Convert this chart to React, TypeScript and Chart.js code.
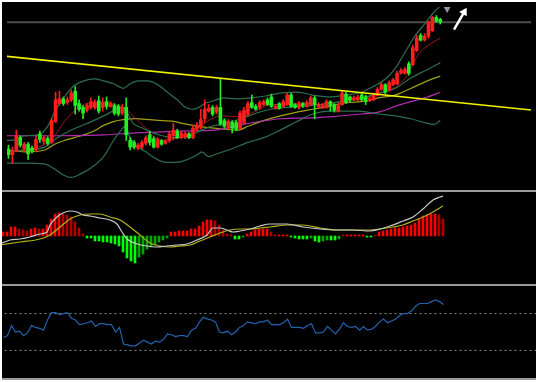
import { useEffect, useRef } from "react";
import { Chart, registerables } from "chart.js";
Chart.register(...registerables);

// ---------- DATA (price units, arbitrary) ----------
const candleOpen = [38,32,37,50,38,43,39,37,54,46, 49,45,67,86,91,87,90,99,86,82, 79,82,82,89,82,88,83,84,83,76, 82,47,45,39,40,44,53,49,40,47, 44,47,52,57,50,51,54,50,59,61, 70,78,82,77,82,68,60,66,66,60, 66,75,87,83,82,85,90,93,81,86, 83,85,95,85,82,86,83,85,92,83, 82,82,88,85,78,85,96,93,90,90, 95,93,89,90,95,101,106,100,106,107, 118,118,128,127,142,158,153,157,163,177, 175];
const candleClose = [32,36,52,42,43,33,36,48,48,50, 44,68,90,91,86,90,97,84,80,76, 84,88,87,78,87,83,86,76,75,82, 53,40,40,42,45,50,45,40,48,43, 46,54,58,50,55,54,50,60,63,69, 80,81,75,82,65,62,67,60,59,76, 79,86,82,80,87,88,85,83,83,81, 88,95,83,82,86,84,87,92,85,85, 84,88,84,79,84,97,88,90,92,93, 90,88,91,95,101,106,98,108,111,118, 121,122,118,145,155,153,157,172,177,173, 172];
const candleHigh = [42,40,58,52,45,45,41,52,57,52, 51,70,98,99,93,93,100,104,90,84, 86,92,90,94,92,93,88,86,85,85, 92,50,47,44,47,52,57,51,50,48, 48,56,65,59,57,56,55,63,66,80, 90,85,84,84,112,70,69,68,68,78, 82,88,95,85,89,90,92,96,85,87, 90,97,97,86,88,87,89,94,94,87, 86,90,89,86,86,99,98,94,94,95, 97,95,93,97,103,108,107,110,113,120, 123,124,130,148,158,160,160,173,178,179, 176];
const candleLow = [28,23,35,40,35,27,34,35,45,43, 42,44,66,84,84,85,88,75,78,70, 77,80,80,76,78,80,82,74,73,74, 47,37,38,37,38,42,42,39,39,42, 43,45,48,49,49,49,49,49,57,59, 66,77,73,75,63,60,59,55,57,59, 64,73,81,79,80,84,84,82,80,80, 82,84,82,81,80,82,82,84,70,81, 81,81,78,77,77,84,86,88,89,89, 89,85,88,89,94,100,96,99,105,106, 117,117,116,126,141,152,152,155,162,172, 170];

// indicator lines: [barIndex, value]
const bollUpper: [number, number][] = [[-0.75,47],[1.75,48],[4.25,52],[7.5,53],[10,62],[11.75,77],[14.25,93],[16.75,105],[19.25,110],[21.75,112],[24.25,110],[26.75,107],[29.25,102],[31,107],[33,110],[35.5,110],[38,106],[40.5,98],[43,90],[44.75,83],[46.75,80],[48.5,82],[50,86],[52.25,89],[54.75,92],[58,91],[61.75,92],[65.5,94],[69.25,97],[73.5,98],[77.5,95],[81.75,93],[86,95],[90,98],[92.5,103],[96,112],[98.5,123],[101,140],[103.5,157],[106,170],[108.5,183],[110,189]];
const bollMid: [number, number][] = [[-0.75,35],[4.25,37],[9.25,40],[11.75,48],[16,58],[20,65],[24.25,73],[27.5,80],[29.25,82],[31.75,65],[34.25,60],[36.75,55],[39.25,52],[41.75,50],[44.25,50],[46.75,53],[49.25,58],[51.75,62],[54.25,64],[59.25,70],[62.5,75],[66.75,80],[71,82],[75,83],[79.25,85],[83,87],[90,92],[94.25,97],[98.5,102],[102.5,113],[106.75,122],[110,129]];
const bollLower: [number, number][] = [[-0.75,23],[4.25,23],[9.25,22],[11.75,17],[14.25,10],[16,8],[18.5,12],[21,18],[24.25,30],[26.75,47],[28.5,57],[29.75,62],[31,50],[32.5,42],[35,35],[37.5,28],[40,24],[42.5,24],[44.25,25],[46.75,29],[48.5,33],[49.25,35],[51,30],[52.5,32],[56.75,38],[61,45],[65,50],[69.25,58],[73.5,67],[77.5,75],[81.75,78],[89.25,78],[94.25,75],[98.5,73],[102.5,70],[106.75,65],[108.5,64],[110,68]];
const maShort: [number, number][] = [[-0.75,35],[4.25,37],[9.25,43],[11.75,52],[14.25,67],[16.75,78],[19.25,85],[21.75,87],[24.25,87],[26.75,85],[29.25,82],[31.75,73],[34.25,63],[36.75,52],[39.25,47],[41.75,48],[44.25,52],[46.75,57],[49.25,63],[51.75,70],[54.25,73],[59.25,72],[62.5,77],[66.75,85],[71,85],[75,87],[79.25,85],[83,87],[90,92],[94.25,95],[96.75,100],[99.25,105],[101.75,117],[104.25,137],[106.75,147],[110,155]];
const maMid: [number, number][] = [[-0.75,37],[4.25,35],[9.25,37],[11.75,43],[14.25,47],[16.75,50],[19.25,53],[21.75,57],[24.25,63],[26.75,67],[29.25,69],[32.5,70],[36,69],[39.25,68],[42.5,67],[44.25,65],[48.5,62],[52.5,60],[58.5,58],[61,62],[65,68],[69.25,73],[73.5,77],[77.5,80],[81.75,83],[86,87],[90,88],[94.25,92],[98.5,95],[102.5,102],[106.75,110],[110,115]];
const maLong: [number, number][] = [[-0.75,52],[7.5,52],[24.25,53],[32.5,55],[44.25,57],[52.5,58],[61,65],[69.25,70],[77.5,71],[81.75,72],[90,75],[94.25,77],[98.5,83],[102.5,88],[106.75,93],[110,98]];
const trendLine: [number, number][] = [[-0.75,136],[133.75,79]];
const levelLine: [number, number][] = [[-1,172],[134,172]];
const arrowShaft: [number, number][] = [[113.5,164],[116.1,182.7]];
const arrowHead: [number, number][] = [[116.1,182.7]];
const topMarker: [number, number][] = [[111.75,187]];

const macdHist = [4,4,9,9,7,6,5,7,8,7, 7,11,17,22,23,22,21,19,14,8, 2,-2,-2,-5,-5,-6,-6,-7,-8,-10, -16,-22,-25,-27,-21,-18,-13,-11,-9,-6, -4,-2,4,4,5,5,5,7,7,10, 14,16,16,15,11,6,2,1,-3,-3, -1,2,4,6,7,7,7,4,1,1, 1,1,-1,-2,-3,-3,-3,-2,-5,-6, -5,-4,-4,-4,-3,1,1,1,1,1, 1,-1,-1,0.5,4,5,6,7,8,8, 9,10,11,13,17,20,21,22,22,21, 17];
const macdDif: [number, number][] = [[-0.75,-8],[1.75,-4],[4.25,-3],[6.75,-1],[9.25,2],[11,4],[11.75,11],[13.5,19],[15,23],[16.75,25],[18.5,24],[20,21],[21.75,20],[24.25,18],[26.75,16],[28.5,12],[29.75,4],[31,-3],[33.5,-8],[36,-10],[38.5,-11],[41,-10],[43.5,-9],[46,-8],[48.5,-4],[51,1],[52.5,8],[54.25,8],[56,6],[57.5,4],[59.25,5],[61.75,7],[64.25,10],[66.75,12],[71,12],[75,9],[79.25,7],[83.5,6],[87.5,6],[91.75,5],[94.25,7],[96.75,10],[100,15],[102.5,19],[105,27],[107.5,36],[109.25,39],[110,40]];
const macdDea: [number, number][] = [[-0.75,-9],[4.25,-6],[9.25,-3],[11.75,1],[14.25,9],[16.75,17],[19.25,21],[21.75,22],[24.25,22],[26.75,19],[29.25,16],[31.75,9],[34.25,1],[36.75,-7],[39.25,-10],[41.75,-11],[44.25,-10],[46.75,-9],[49.25,-5],[51.75,-1],[54.25,3],[56.75,6],[59.25,7],[61.75,7],[64.25,8],[66.75,9],[71,11],[75,11],[79.25,8],[83.5,6],[87.5,6],[91.75,6],[94.25,7],[97.5,9],[100,11],[102.5,15],[105,19],[107.5,24],[110,30]];

const rsiValues = [44,46,57,50,51,46,49,57,55,54, 52,63,71,71,69,70,71,65,63,58, 59,60,62,56,59,59,58,58,50,55, 37,36,35,35,38,41,39,37,40,39, 42,48,47,45,46,46,45,52,54,61, 66,64,63,61,50,49,51,47,50,55, 57,61,60,59,61,61,63,58,58,58, 60,64,55,55,55,54,57,59,49,49, 50,56,52,48,53,60,56,55,56,52, 56,52,53,56,61,64,60,62,64,68, 70,70,73,78,81,81,81,83,85,83, 80];
const rsiLevels = [70, 30];

// ---------- helpers ----------
const pts = (arr: [number, number][]) => arr.map(([x, y]) => ({ x, y }));
const RED = "#ff1e1e";
const GREEN = "#22ee22";

const baseOptions = (xmin: number, xmax: number, ymin: number, ymax: number): any => ({
  responsive: false,
  animation: false,
  devicePixelRatio: 1,
  layout: { padding: 0 },
  plugins: { legend: { display: false }, tooltip: { enabled: false } },
  elements: { point: { radius: 0 } },
  scales: {
    x: { type: "linear", min: xmin, max: xmax, display: false, offset: false },
    y: { type: "linear", min: ymin, max: ymax, display: false },
  },
});

const lineDs = (data: [number, number][], color: string, width = 1, order = 3, extra: any = {}) => ({
  type: "line",
  data: pts(data),
  borderColor: color,
  borderWidth: width,
  pointRadius: 0,
  cubicInterpolationMode: "monotone",
  order,
  ...extra,
});

function mainConfig(): any {
  const n = candleOpen.length;
  const idx = Array.from({ length: n }, (_, i) => i);
  const cols = idx.map((i) => (candleClose[i] >= candleOpen[i] ? RED : GREEN));
  return {
    type: "bar",
    data: {
      datasets: [
        lineDs(levelLine, "#4d4d4d", 2, 6, { cubicInterpolationMode: "default" }),
        lineDs(maLong, "#b02cb0", 1.2, 5),
        lineDs(maMid, "#a0a018", 1.2, 5),
        lineDs(bollUpper, "#2e6e4e", 1.2, 4),
        lineDs(bollMid, "#2e6e4e", 1.2, 4),
        lineDs(bollLower, "#2e6e4e", 1.2, 4),
        lineDs(maShort, "#9c1616", 1, 4),
        {
          type: "bar",
          data: idx.map((i) => ({ x: i, y: [candleLow[i], candleHigh[i]] })),
          backgroundColor: cols,
          barThickness: 1,
          grouped: false,
          order: 2,
        },
        {
          type: "bar",
          data: idx.map((i) => ({ x: i, y: [candleOpen[i], candleClose[i]] })),
          backgroundColor: cols,
          barThickness: 3,
          minBarLength: 1,
          grouped: false,
          order: 1,
        },
        lineDs(trendLine, "#f0f000", 1.6, 0, { cubicInterpolationMode: "default" }),
        lineDs(arrowShaft, "#ffffff", 2.5, 0, { cubicInterpolationMode: "default" }),
        {
          type: "scatter",
          data: pts(arrowHead),
          pointStyle: "triangle",
          pointRadius: 5,
          rotation: 30,
          backgroundColor: "#ffffff",
          borderColor: "#ffffff",
          borderWidth: 0,
          order: 0,
        },
        {
          type: "scatter",
          data: pts(topMarker),
          pointStyle: "triangle",
          pointRadius: 5,
          rotation: 180,
          backgroundColor: "#8a97a8",
          borderWidth: 0,
          order: 0,
        },
      ],
    },
    options: baseOptions(-0.375, 133.125, 0, 188),
  };
}

function macdConfig(): any {
  const idx = macdHist.map((_, i) => i);
  const cols = macdHist.map((v, i) => {
    const prev = i > 0 ? Math.abs(macdHist[i - 1]) : 0;
    const growing = Math.abs(v) >= prev;
    if (v >= 0) return growing ? "#ff0000" : "#b00000";
    return growing ? "#00ff00" : "#00a800";
  });
  return {
    type: "bar",
    data: {
      datasets: [
        {
          type: "bar",
          data: idx.map((i) => ({ x: i, y: macdHist[i] })),
          backgroundColor: cols,
          barThickness: 2,
          grouped: false,
          order: 3,
        },
        lineDs(macdDea, "#b0b018", 1.2, 1),
        lineDs(macdDif, "#c8c8c8", 1.2, 0),
      ],
    },
    options: baseOptions(-0.25, 133.25, -48, 44),
  };
}

function rsiConfig(): any {
  return {
    type: "line",
    data: {
      datasets: [
        ...rsiLevels.map((lv) => ({
          data: [{ x: -1, y: lv }, { x: 134, y: lv }],
          borderColor: "#8c8c8c",
          borderWidth: 1,
          borderDash: [2, 3],
          pointRadius: 0,
          order: 2,
        })),
        {
          data: rsiValues.map((v, i) => ({ x: i, y: v })),
          borderColor: "#2262ad",
          borderWidth: 1.2,
          pointRadius: 0,
          tension: 0,
          order: 0,
        },
      ],
    },
    options: baseOptions(-0.375, 133.125, 0, 100),
  };
}

function Panel({ top, height, make }: { top: number; height: number; make: () => any }) {
  const ref = useRef<HTMLCanvasElement | null>(null);
  useEffect(() => {
    if (!ref.current) return;
    const chart = new Chart(ref.current, make());
    return () => chart.destroy();
  }, []);
  return (
    <div style={{ position: "absolute", left: 2, top, width: 534, height, background: "#000" }}>
      <canvas ref={ref} width={534} height={height} style={{ display: "block", width: 534, height }} />
    </div>
  );
}

const Sep = ({ top }: { top: number }) => (
  <div style={{ position: "absolute", left: 2, top, width: 534, height: 2, background: "#9a9a9a" }} />
);

export default function App() {
  return (
    <div style={{ position: "fixed", left: 0, top: 0, width: 538, height: 382, background: "#ffffff", overflow: "hidden" }}>
      <Panel top={2} height={188} make={mainConfig} />
      <Sep top={190} />
      <Panel top={192} height={92} make={macdConfig} />
      <Sep top={284} />
      <Panel top={286} height={92} make={rsiConfig} />
      <Sep top={378} />
    </div>
  );
}
